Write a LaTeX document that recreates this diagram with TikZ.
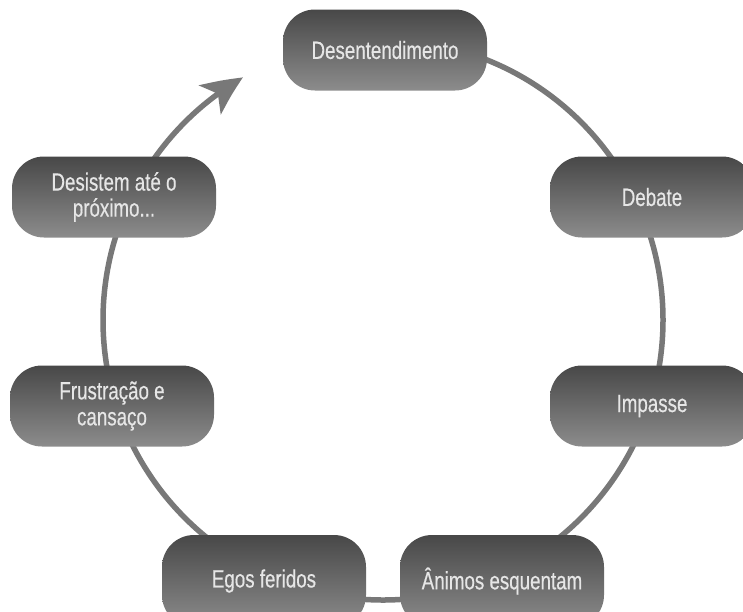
\documentclass[tikz,border=0pt]{standalone}
\usepackage{fontspec}
\newfontfamily\boxfont[FakeStretch=0.75,FakeBold=0.4]{Liberation Sans}
\usetikzlibrary{arrows.meta,backgrounds,bending}
\definecolor{boxtop}{HTML}{484848}
\definecolor{boxbot}{HTML}{8C8C8C}
\definecolor{boxtext}{HTML}{E6E6E6}
\definecolor{ringcol}{HTML}{787878}
\tikzset{
  cyclebox/.style={rectangle, rounded corners=32pt, minimum width=204pt, minimum height=81pt,
    top color=boxtop, bottom color=boxbot, draw=none, text=boxtext,
    font=\boxfont\fontsize{25}{26}\selectfont, align=center, inner sep=0pt},
  ring/.style={draw=ringcol, line width=5.5pt}
}
\begin{document}
\begin{tikzpicture}[x=1pt,y=1pt]
\useasboundingbox (0,0) rectangle (743,-611);
\coordinate (c) at (383,-320);
\node[cyclebox] (n1) at (385,-50) {Desentendimento};
\node[cyclebox] (n2) at (652,-197) {Debate};
\node[cyclebox] (n3) at (652,-406) {Impasse};
\node[cyclebox, minimum height=92pt] (n4) at (502,-581) {Ânimos esquentam};
\node[cyclebox, minimum height=92pt] (n5) at (264,-581) {Egos feridos};
\node[cyclebox] (n6) at (112,-406) {Frustração e\\cansaço};
\node[cyclebox] (n7) at (114,-197) {Desistem até o\\próximo...};
\begin{scope}[on background layer]
\fill[white] (0,0) rectangle (743,-611);
\draw[ring, -{Stealth[length=40pt,width=36pt,inset=10pt,bend]}]
  ([shift={(90:280)}]c) arc[start angle=90, end angle=-240, radius=280];
\end{scope}
\end{tikzpicture}
\end{document}
